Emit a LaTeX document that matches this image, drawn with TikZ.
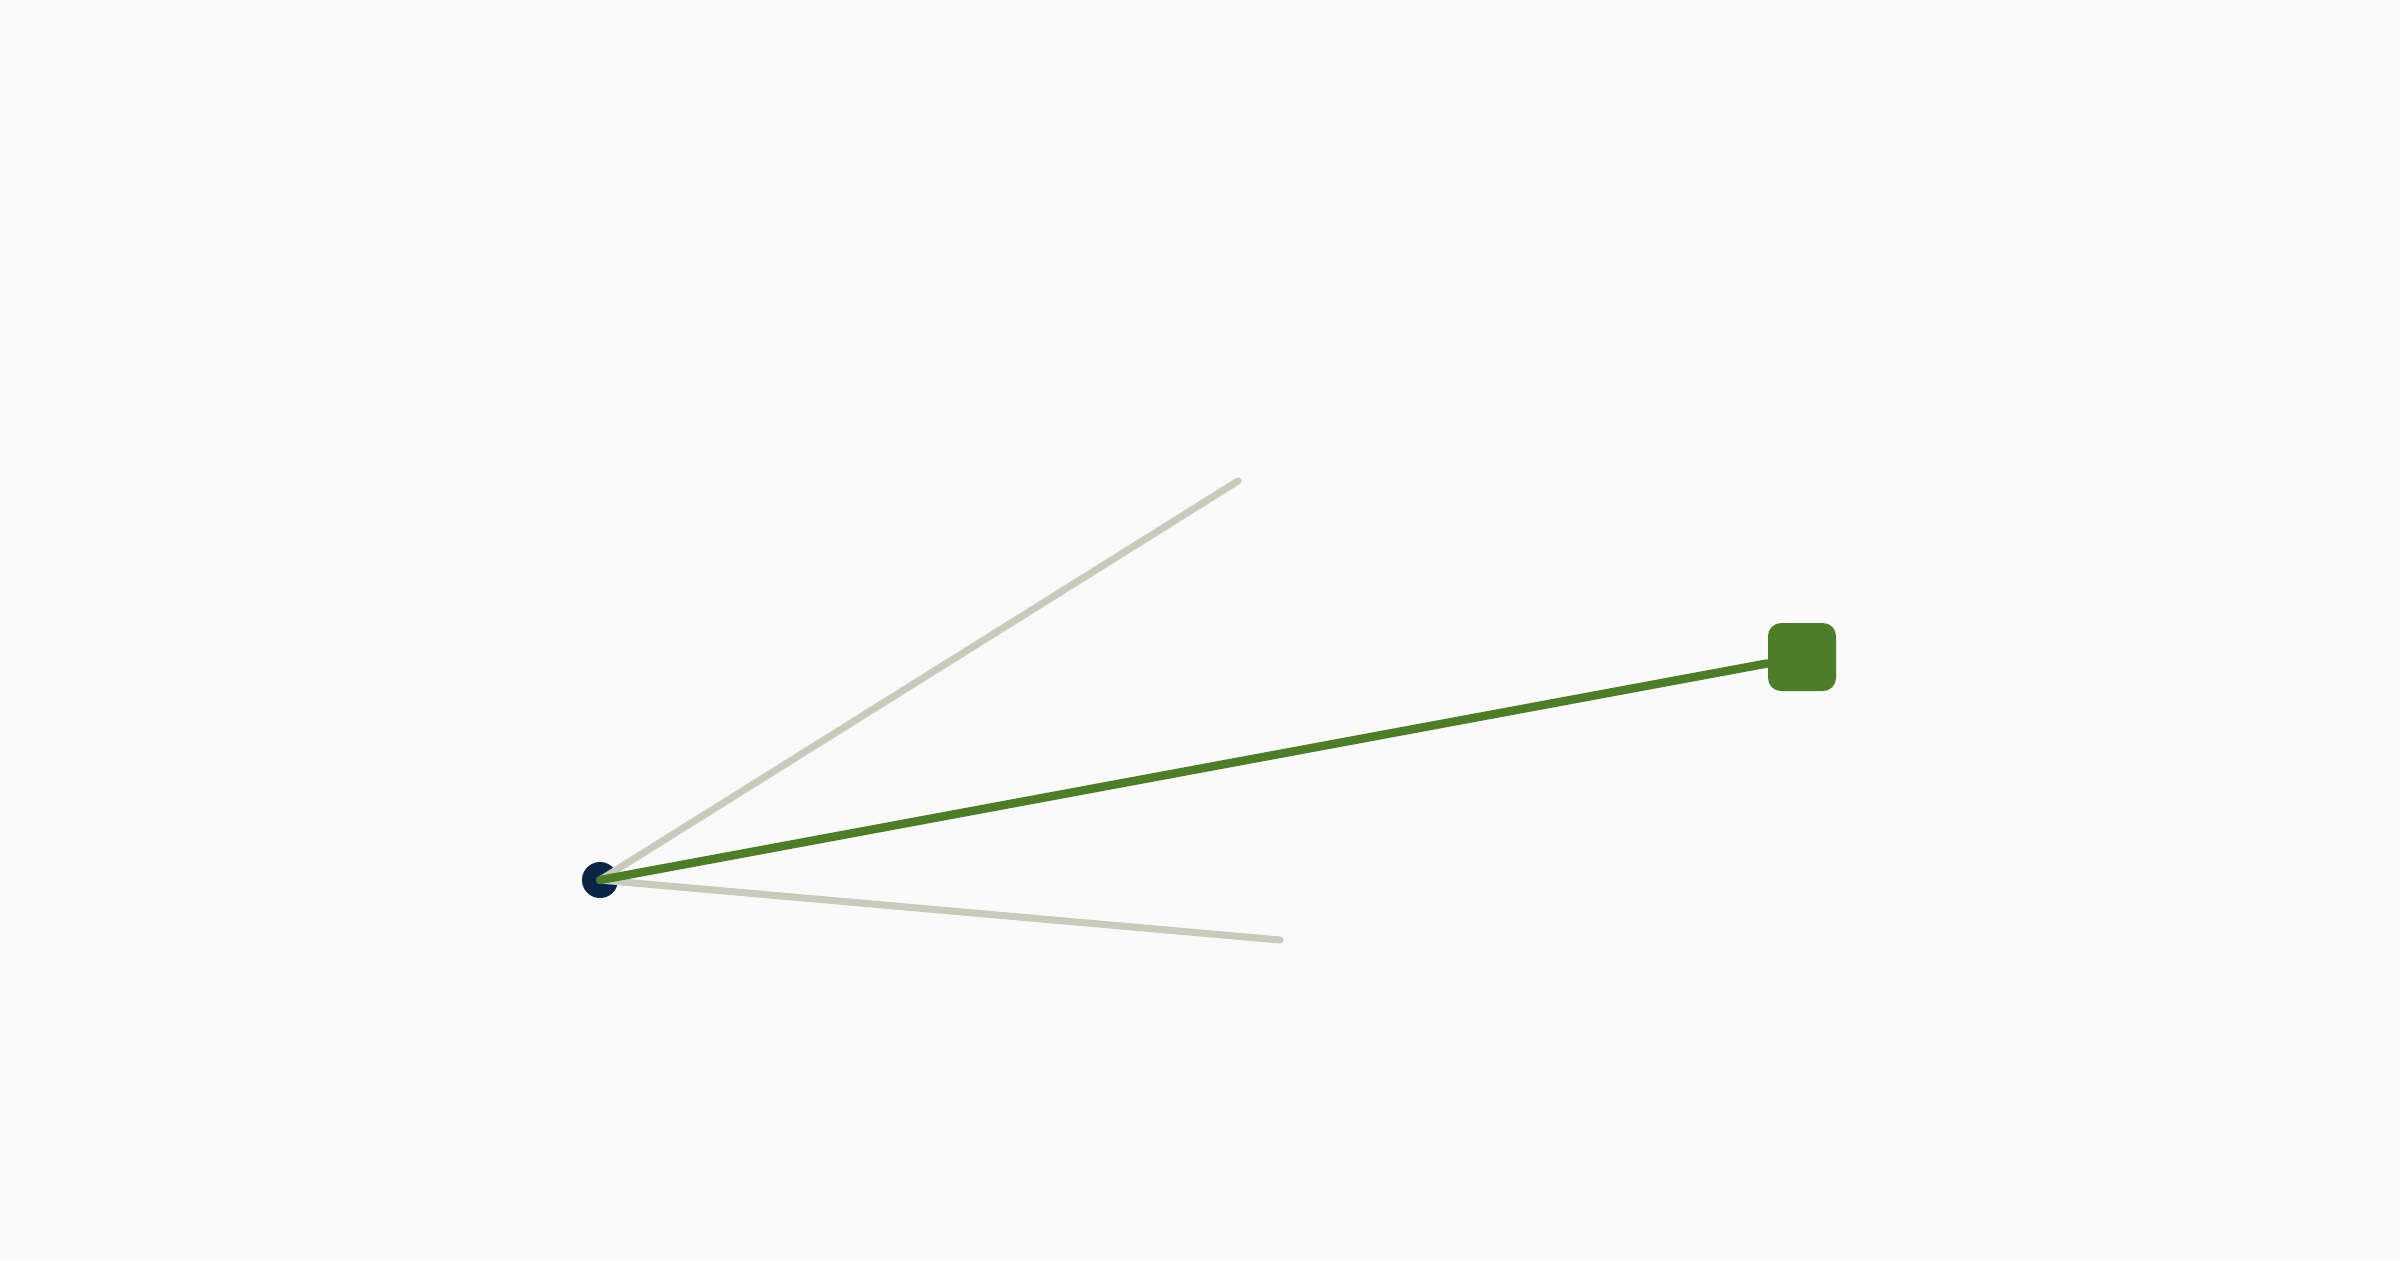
\documentclass[tikz,border=0pt]{standalone}
\definecolor{bgcol}{RGB}{250,250,250}
\definecolor{hubcol}{RGB}{10,35,70}
\definecolor{linkcol}{RGB}{78,125,42}
\definecolor{fadecol}{RGB}{200,203,188}
\tikzset{
  hub/.style={circle,fill=hubcol,inner sep=0pt,minimum size=0.36cm},
  target/.style={rectangle,rounded corners=0.13cm,fill=linkcol,inner sep=0pt,minimum size=0.68cm},
  fade/.style={color=fadecol,line width=2pt,line cap=round},
  link/.style={color=linkcol,line width=2.4pt,line cap=round}
}
\begin{document}
\begin{tikzpicture}
\fill[bgcol] (0,0) rectangle (24,12.6);
\useasboundingbox (0,0) rectangle (24,12.6);
    \node[hub] (h) at (6.00,3.80) {};
    \node[target] (t) at (18.02,6.03) {};
    \coordinate (a) at (12.38,7.79);
    \coordinate (b) at (12.80,3.20);
    \draw[fade] (h.center)--(a);
    \draw[fade] (h.center)--(b);
    \draw[link] (h.center)--(t);
\end{tikzpicture}
\end{document}
